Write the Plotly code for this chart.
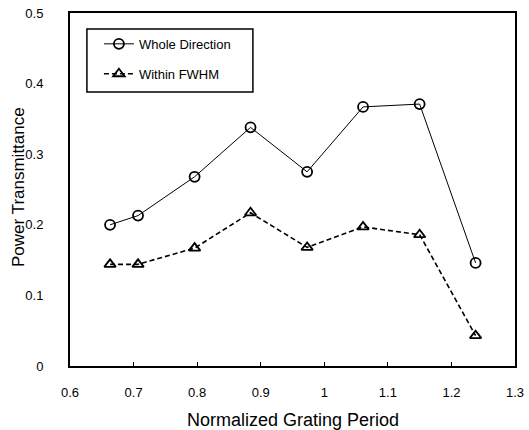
import plotly.graph_objects as go

period = [0.663, 0.707, 0.796, 0.884, 0.973, 1.061, 1.150, 1.238]
whole = [0.200, 0.213, 0.268, 0.338, 0.275, 0.367, 0.371, 0.146]
fwhm = [0.144, 0.144, 0.167, 0.217, 0.168, 0.197, 0.186, 0.043]

font = "Liberation Sans, Arial, sans-serif"

fig = go.Figure()
fig.add_trace(go.Scatter(
    x=period, y=whole, name="Whole Direction", mode="lines+markers", legendgroup="a",
    line=dict(color="black", width=1),
    marker=dict(symbol="circle-open", size=10, color="black", line=dict(width=1.8)),
))
fig.add_trace(go.Scatter(
    x=period, y=fwhm, name="Within FWHM", mode="lines+markers", legendgroup="b",
    line=dict(color="black", width=1.6, dash="5px,3px"),
    marker=dict(symbol="triangle-up-open", size=10, color="black", line=dict(width=1.8)),
))

fig.add_shape(type="rect", xref="paper", yref="paper",
              x0=0.038, x1=0.411, y0=0.776, y1=0.955,
              line=dict(color="black", width=1.5), fillcolor="rgba(0,0,0,0)")

fig.add_annotation(text="Normalized Grating Period", xref="paper", yref="paper",
                   x=0.5, y=-0.153, xanchor="center", yanchor="middle",
                   showarrow=False, font=dict(size=18))
fig.add_annotation(text="Power Transmittance", xref="paper", yref="paper",
                   x=-0.117, y=0.507, xanchor="center", yanchor="middle",
                   textangle=-90, showarrow=False, font=dict(size=17))

fig.update_layout(
    width=529, height=430,
    margin=dict(l=70, r=14, t=13, b=64, autoexpand=False),
    paper_bgcolor="white", plot_bgcolor="white",
    font=dict(family=font, size=13, color="black"),
    showlegend=True,
    legend=dict(
        x=0.065, y=0.955, xanchor="left", yanchor="top",
        borderwidth=0, bgcolor="rgba(0,0,0,0)",
        font=dict(size=13), tracegroupgap=10, itemwidth=30,
    ),
    xaxis=dict(
        range=[0.6, 1.3], tickvals=[0.6, 0.7, 0.8, 0.9, 1.0, 1.1, 1.2, 1.3],
        ticktext=["0.6", "0.7", "0.8", "0.9", "1", "1.1", "1.2", "1.3"],
        showgrid=False, zeroline=False, showline=True, linecolor="black", linewidth=2,
        mirror=True, ticks="inside", ticklen=4, tickcolor="black", automargin=False,
        tickfont=dict(size=13), ticklabelstandoff=13,
    ),
    yaxis=dict(
        range=[0, 0.5], tickvals=[0, 0.1, 0.2, 0.3, 0.4, 0.5],
        ticktext=["0", "0.1", "0.2", "0.3", "0.4", "0.5"],
        showgrid=False, zeroline=False, showline=True, linecolor="black", linewidth=2,
        mirror=True, ticks="", automargin=False,
        tickfont=dict(size=13), ticklabelstandoff=22,
    ),
)

fig.write_html("out.html")
